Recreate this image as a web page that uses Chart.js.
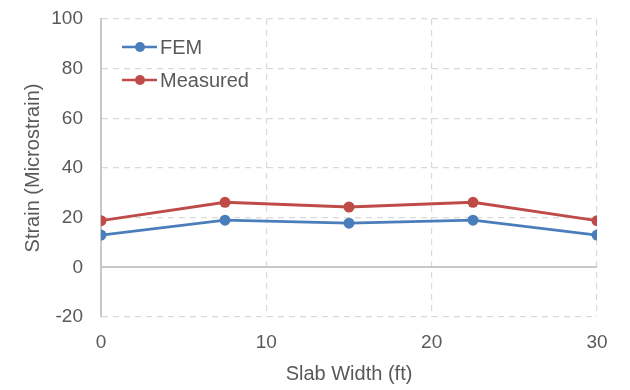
<!DOCTYPE html>
<html>
<head>
<meta charset="utf-8">
<script src="https://cdn.jsdelivr.net/npm/chart.js@4.4.0/dist/chart.umd.min.js"></script>
<style>
  html, body { margin: 0; padding: 0; background: #fff; }
  #wrap { width: 630px; height: 390px; }
</style>
</head>
<body>
<div id="wrap"><canvas id="myChart" width="630" height="390"></canvas></div>
<script>
const slabWidth = [0, 7.5, 15, 22.5, 30];
const femStrain = [13, 19, 17.8, 19, 13];
const measuredStrain = [18.8, 26.2, 24.3, 26.2, 18.8];
const xTicks = [0, 10, 20, 30];
const yTicks = [-20, 0, 20, 40, 60, 80, 100];

const blue = '#4a7ebb';
const red = '#be4b48';
const textGray = '#595959';
const fontFamily = '"Liberation Sans", Arial, sans-serif';

// legend inside the plot, line with a dot like Excel
const insideLegend = {
  id: 'insideLegend',
  afterDraw(chart) {
    const ctx = chart.ctx;
    ctx.save();
    ctx.font = '20px ' + fontFamily;
    ctx.textBaseline = 'middle';
    chart.data.datasets.forEach((ds, i) => {
      const y = 47 + i * 33;
      const x0 = 122;
      ctx.strokeStyle = ds.borderColor;
      ctx.lineWidth = 2.5;
      ctx.beginPath();
      ctx.moveTo(x0, y);
      ctx.lineTo(x0 + 35, y);
      ctx.stroke();
      ctx.fillStyle = ds.borderColor;
      ctx.beginPath();
      ctx.arc(x0 + 18, y, 5, 0, Math.PI * 2);
      ctx.fill();
      ctx.fillStyle = textGray;
      ctx.fillText(ds.label, x0 + 38, y + 1);
    });
    ctx.restore();
  }
};

const ctx = document.getElementById('myChart').getContext('2d');
const myChart = new Chart(ctx, {
  type: 'line',
  data: {
    datasets: [{
      label: 'FEM',
      data: slabWidth.map((x, i) => ({ x: x, y: femStrain[i] })),
      borderColor: blue,
      backgroundColor: blue,
      borderWidth: 2.8,
      pointRadius: 5.5,
      pointBorderWidth: 0,
      pointHoverRadius: 5.5,
      tension: 0
    }, {
      label: 'Measured',
      data: slabWidth.map((x, i) => ({ x: x, y: measuredStrain[i] })),
      borderColor: red,
      backgroundColor: red,
      borderWidth: 2.8,
      pointRadius: 5.5,
      pointBorderWidth: 0,
      pointHoverRadius: 5.5,
      tension: 0
    }]
  },
  options: {
    responsive: false,
    animation: false,
    events: [],
    layout: { padding: { top: 19, right: 33, bottom: 0, left: 21 } },
    plugins: {
      legend: { display: false },
      title: { display: false },
      tooltip: { enabled: false }
    },
    scales: {
      x: {
        type: 'linear',
        min: 0,
        max: 30,
        afterBuildTicks: axis => { axis.ticks = xTicks.map(v => ({ value: v })); },
        afterFit: axis => { axis.height = 73; axis.paddingLeft = 0; axis.paddingRight = 0; },
        grid: {
          color: '#d9d9d9',
          lineWidth: 1.2,
          drawTicks: false
        },
        border: { display: false, dash: [6, 5] },
        ticks: {
          color: textGray,
          padding: 14,
          font: { family: fontFamily, size: 19 }
        },
        title: {
          display: true,
          text: 'Slab Width (ft)',
          color: textGray,
          padding: { top: 4, bottom: 4 },
          font: { family: fontFamily, size: 20 }
        }
      },
      y: {
        min: -20,
        max: 100,
        afterBuildTicks: axis => { axis.ticks = yTicks.map(v => ({ value: v })); },
        afterFit: axis => { axis.width = 80; axis.paddingTop = 0; axis.paddingBottom = 0; },
        grid: {
          color: c => c.tick && c.tick.value === 0 ? '#c8c8c8' : '#d9d9d9',
          lineWidth: c => c.tick && c.tick.value === 0 ? 2 : 1.2,
          drawTicks: false
        },
        border: {
          display: true,
          color: '#c8c8c8',
          width: 2,
          dash: c => c.tick && c.tick.value === 0 ? [] : [6, 5]
        },
        ticks: {
          color: textGray,
          padding: 18,
          font: { family: fontFamily, size: 19 }
        },
        title: {
          display: true,
          text: 'Strain (Microstrain)',
          color: textGray,
          padding: { top: 0, bottom: 4 },
          font: { family: fontFamily, size: 20 }
        }
      }
    }
  },
  plugins: [insideLegend]
});
</script>
</body>
</html>
